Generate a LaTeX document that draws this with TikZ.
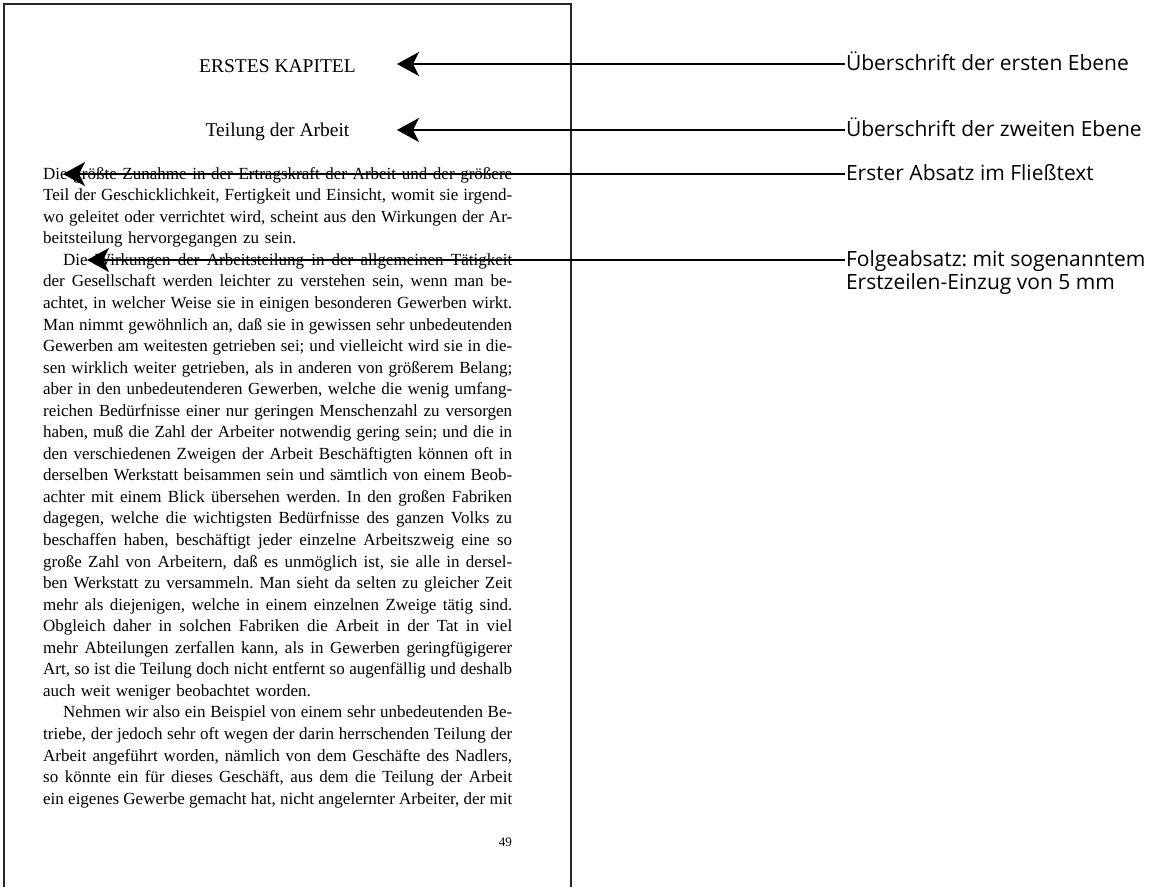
\documentclass[tikz,border=0pt]{standalone}
\usepackage{fontspec}
\setmainfont{Liberation Serif}
\newfontfamily\etikettfont{Open Sans}
\usetikzlibrary{arrows.meta}
\newcommand{\zeile}[1]{\noindent{\spaceskip=0.25em plus 1fil minus 0.15em\xspaceskip=\spaceskip\makebox[\linewidth][s]{\strut#1}}\par}
\newcommand{\schluss}[1]{\noindent\makebox[\linewidth][l]{\strut#1}\par}
\begin{document}
\begin{tikzpicture}[x=1pt, y=-1pt,
    seite/.style={draw=black!85, line width=1.3pt},
    zeiger/.style={-{Stealth[length=22pt, width=24pt, inset=6pt]}, line width=2.2pt},
    etikett/.style={anchor=base west, inner sep=0pt, outer sep=1pt,
      font=\etikettfont\fontsize{21}{23}\selectfont\frenchspacing},
    titel/.style={anchor=base, inner sep=0pt, font=\fontsize{19.5}{23}\selectfont}]
\useasboundingbox (0,0) rectangle (1150,887);
\draw[seite] (4,887) -- (4,4) -- (571,4) -- (571,887);
\node[titel] (kapitel) at (277.5,72) {ERSTES KAPITEL};
\node[titel] (teilung) at (277.5,136) {Teilung der Arbeit};
\node[anchor=north west, inner sep=0pt, text width=469pt,
  font=\fontsize{17}{21.55}\selectfont\frenchspacing] (fliesstext) at (43,163.9) {%
\zeile{Die größte Zunahme in der Ertragskraft der Arbeit und der größere}
\zeile{Teil der Geschicklichkeit, Fertigkeit und Einsicht, womit sie irgend-}
\zeile{wo geleitet oder verrichtet wird, scheint aus den Wirkungen der Ar-}
\schluss{beitsteilung hervorgegangen zu sein.}
\zeile{\hspace*{20pt}Die Wirkungen der Arbeitsteilung in der allgemeinen Tätigkeit}
\zeile{der Gesellschaft werden leichter zu verstehen sein, wenn man be-}
\zeile{achtet, in welcher Weise sie in einigen besonderen Gewerben wirkt.}
\zeile{Man nimmt gewöhnlich an, daß sie in gewissen sehr unbedeutenden}
\zeile{Gewerben am weitesten getrieben sei; und vielleicht wird sie in die-}
\zeile{sen wirklich weiter getrieben, als in anderen von größerem Belang;}
\zeile{aber in den unbedeutenderen Gewerben, welche die wenig umfang-}
\zeile{reichen Bedürfnisse einer nur geringen Menschenzahl zu versorgen}
\zeile{haben, muß die Zahl der Arbeiter notwendig gering sein; und die in}
\zeile{den verschiedenen Zweigen der Arbeit Beschäftigten können oft in}
\zeile{derselben Werkstatt beisammen sein und sämtlich von einem Beob-}
\zeile{achter mit einem Blick übersehen werden. In den großen Fabriken}
\zeile{dagegen, welche die wichtigsten Bedürfnisse des ganzen Volks zu}
\zeile{beschaffen haben, beschäftigt jeder einzelne Arbeitszweig eine so}
\zeile{große Zahl von Arbeitern, daß es unmöglich ist, sie alle in dersel-}
\zeile{ben Werkstatt zu versammeln. Man sieht da selten zu gleicher Zeit}
\zeile{mehr als diejenigen, welche in einem einzelnen Zweige tätig sind.}
\zeile{Obgleich daher in solchen Fabriken die Arbeit in der Tat in viel}
\zeile{mehr Abteilungen zerfallen kann, als in Gewerben geringfügigerer}
\zeile{Art, so ist die Teilung doch nicht entfernt so augenfällig und deshalb}
\schluss{auch weit weniger beobachtet worden.}
\zeile{\hspace*{20pt}Nehmen wir also ein Beispiel von einem sehr unbedeutenden Be-}
\zeile{triebe, der jedoch sehr oft wegen der darin herrschenden Teilung der}
\zeile{Arbeit angeführt worden, nämlich von dem Geschäfte des Nadlers,}
\zeile{so könnte ein für dieses Geschäft, aus dem die Teilung der Arbeit}
\zeile{ein eigenes Gewerbe gemacht hat, nicht angelernter Arbeiter, der mit}};
\node[anchor=base east, inner sep=0pt, font=\fontsize{13}{15}\selectfont] (seitenzahl) at (512,846) {49};
\coordinate (spitzeA) at (397,64);
\coordinate (spitzeB) at (397,130);
\coordinate (spitzeC) at (63,174);
\coordinate (spitzeD) at (87,260);
\node[etikett] (ebeneeins) at (845,70) {Überschrift der ersten Ebene};
\node[etikett] (ebenezwei) at (845,136) {Überschrift der zweiten Ebene};
\node[etikett] (ersterabsatz) at (845,180) {Erster Absatz im Fließtext};
\node[etikett] (folgeabsatz) at (845,266) {\begin{tabular}[t]{@{}l@{}}Folgeabsatz: mit sogenanntem\\Erstzeilen-Einzug von 5 mm\end{tabular}};
\draw[zeiger] (ebeneeins.west |- spitzeA) -- (spitzeA);
\draw[zeiger] (ebenezwei.west |- spitzeB) -- (spitzeB);
\draw[zeiger] (ersterabsatz.west |- spitzeC) -- (spitzeC);
\draw[zeiger] (folgeabsatz.west |- spitzeD) -- (spitzeD);
\end{tikzpicture}
\end{document}
